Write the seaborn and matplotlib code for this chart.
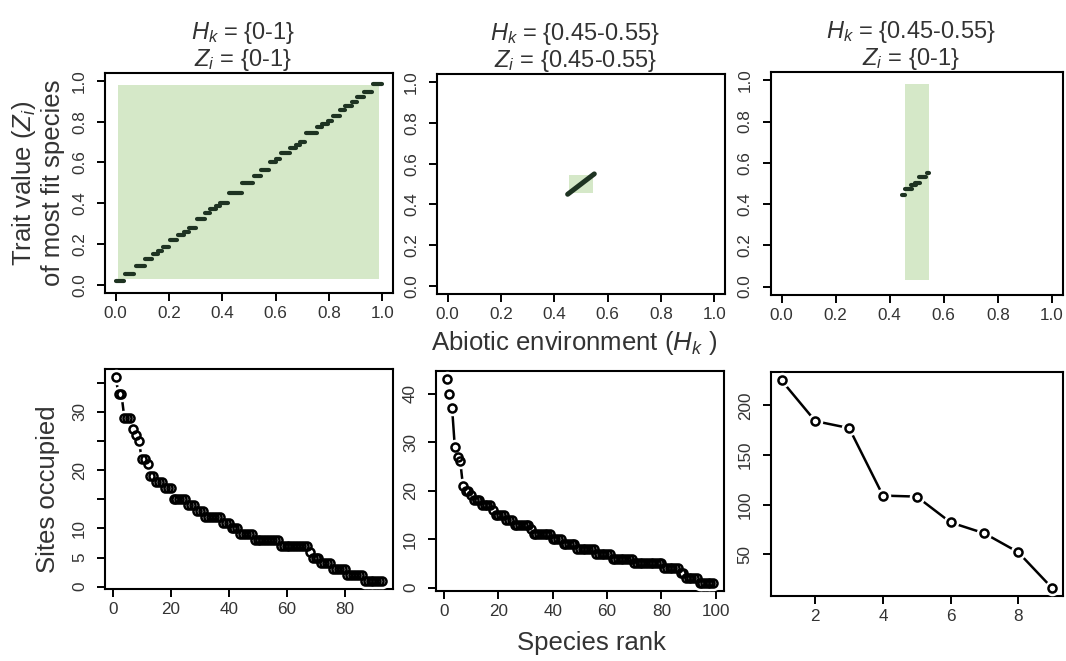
import numpy as np
import pandas as pd
import seaborn as sns
import matplotlib.pyplot as plt
from matplotlib.patches import Rectangle

# top row: steps of the most fit species (environment from, environment to, trait)
full_h0 = [0.00, 0.035, 0.075, 0.11, 0.14, 0.16, 0.178, 0.205, 0.235, 0.255, 0.275,
           0.305, 0.335, 0.355, 0.375, 0.39, 0.425, 0.475, 0.52, 0.545, 0.58, 0.60,
           0.62, 0.655, 0.675, 0.69, 0.715, 0.755, 0.775, 0.795, 0.815, 0.84, 0.86,
           0.885, 0.905, 0.93, 0.965]
full_h1 = [0.03, 0.07, 0.11, 0.135, 0.16, 0.175, 0.20, 0.23, 0.255, 0.275, 0.30,
           0.335, 0.355, 0.375, 0.39, 0.42, 0.475, 0.515, 0.545, 0.575, 0.60, 0.615,
           0.655, 0.675, 0.69, 0.71, 0.755, 0.775, 0.795, 0.81, 0.84, 0.86, 0.885,
           0.905, 0.93, 0.96, 1.00]
full_z = [0.02, 0.05, 0.09, 0.125, 0.15, 0.165, 0.185, 0.22, 0.245, 0.26, 0.28,
          0.32, 0.35, 0.37, 0.385, 0.40, 0.45, 0.50, 0.535, 0.565, 0.60, 0.615,
          0.645, 0.67, 0.685, 0.70, 0.745, 0.775, 0.79, 0.805, 0.83, 0.855, 0.875,
          0.895, 0.92, 0.945, 0.985]

mid_h0 = [0.45]
mid_h1 = [0.55]
mid_z0 = [0.45]
mid_z1 = [0.55]

narrow_h0 = [0.445, 0.457, 0.477, 0.495, 0.508, 0.538]
narrow_h1 = [0.455, 0.482, 0.497, 0.512, 0.535, 0.547]
narrow_z = [0.445, 0.472, 0.49, 0.50, 0.532, 0.549]

# shaded niche: environment range and trait range
box_h = [(0.01, 0.99), (0.455, 0.545), (0.455, 0.545)]
box_z = [(0.03, 0.98), (0.455, 0.545), (0.03, 0.98)]

titles = ["$H_k$ = {0-1}\n$Z_i$ = {0-1}",
          "$H_k$ = {0.45-0.55}\n$Z_i$ = {0.45-0.55}",
          "$H_k$ = {0.45-0.55}\n$Z_i$ = {0-1}"]

# bottom row: sites occupied by species rank
occ_full = [36, 33, 33, 29, 29, 29, 27, 26, 25, 22, 22, 21, 19, 19, 18, 18, 18,
            17, 17, 17, 15, 15, 15, 15, 15, 14, 14, 14, 13, 13, 13, 12, 12, 12,
            12, 12, 12, 11, 11, 11, 10, 10, 10, 9, 9, 9, 9, 9, 8, 8, 8, 8, 8, 8,
            8, 8, 8, 7, 7, 7, 7, 7, 7, 7, 7, 7, 7, 6, 5, 5, 5, 4, 4, 4, 4, 3, 3,
            3, 3, 3, 2, 2, 2, 2, 2, 2, 1, 1, 1, 1, 1, 1, 1]
occ_mid = [43, 40, 37, 29, 27, 26, 21, 20, 20, 19, 18, 18, 18, 17, 17, 17, 17,
           16, 15, 15, 15, 15, 14, 14, 14, 13, 13, 13, 13, 13, 13, 12, 11, 11,
           11, 11, 11, 11, 11, 10, 10, 10, 10, 9, 9, 9, 9, 9, 8, 8, 8, 8, 8, 8,
           8, 7, 7, 7, 7, 7, 7, 6, 6, 6, 6, 6, 6, 6, 6, 5, 5, 5, 5, 5, 5, 5, 5,
           5, 5, 5, 4, 4, 4, 4, 4, 4, 3, 3, 2, 2, 2, 2, 2, 1, 1, 1, 1, 1, 1]
occ_narrow = [225, 184, 177, 109, 108, 82, 71, 52, 16]

bottom_yticks = [[0, 5, 10, 15, 20, 25, 30, 35], [0, 10, 20, 30, 40], [50, 100, 150, 200]]
bottom_ylabels = [["0", "5", "10", "", "20", "", "30", ""],
                  ["0", "10", "20", "30", "40"],
                  ["50", "100", "150", "200"]]
bottom_xticks = [[0, 20, 40, 60, 80], [0, 20, 40, 60, 80, 100], [2, 4, 6, 8]]

green = "#d5e8c8"
dots = "#1e3322"
txt = "#333333"

sns.set_theme(style="ticks")
plt.rcParams.update({
    "font.family": ["Liberation Sans", "DejaVu Sans"],
    "mathtext.fontset": "custom",
    "mathtext.rm": "Liberation Sans",
    "mathtext.it": "Liberation Sans:italic",
    "axes.edgecolor": "black",
    "axes.linewidth": 1.5,
    "xtick.major.width": 1.4,
    "ytick.major.width": 1.4,
    "xtick.major.size": 6,
    "ytick.major.size": 6,
    "xtick.major.pad": 3.5,
    "ytick.major.pad": 7,
    "xtick.labelsize": 12.3,
    "ytick.labelsize": 12.3,
    "xtick.color": "black",
    "ytick.color": "black",
    "xtick.labelcolor": txt,
    "ytick.labelcolor": txt,
    "text.color": txt,
})

fig = plt.figure(figsize=(10.66, 6.61), dpi=100)
top_pos = [[0.0985, 0.557, 0.270, 0.333], [0.410, 0.555, 0.270, 0.333], [0.723, 0.554, 0.274, 0.337]]
bot_pos = [[0.0985, 0.109, 0.270, 0.333], [0.409, 0.106, 0.270, 0.333], [0.723, 0.098, 0.274, 0.339]]

steps = [
    (full_h0, full_h1, full_z, full_z),
    (mid_h0, mid_h1, mid_z0, mid_z1),
    (narrow_h0, narrow_h1, narrow_z, narrow_z),
]

def segments_frame(h0, h1, z0, z1):
    rows = []
    for k in range(len(h0)):
        rows.append({"seg": k, "h": h0[k], "z": z0[k]})
        rows.append({"seg": k, "h": h1[k], "z": z1[k]})
    return pd.DataFrame(rows)

for i in range(3):
    ax = fig.add_axes(top_pos[i])
    (h0, h1), (z0, z1) = box_h[i], box_z[i]
    ax.add_patch(Rectangle((h0, z0), h1 - h0, z1 - z0, color=green, lw=0, zorder=1))
    df = segments_frame(*steps[i])
    lw = 3.6 if i == 1 else 3.0
    sns.lineplot(data=df, x="h", y="z", units="seg", estimator=None, sort=False,
                 color=dots, lw=lw, solid_capstyle="round", ax=ax, zorder=3)
    ax.set_xlim(-0.04, 1.04)
    ax.set_ylim(-0.04, 1.04)
    ax.set_xticks([0, 0.2, 0.4, 0.6, 0.8, 1.0])
    ax.set_yticks([0, 0.2, 0.4, 0.6, 0.8, 1.0])
    ax.set_xticklabels(["0.0", "0.2", "0.4", "0.6", "0.8", "1.0"])
    ax.set_yticklabels(["0.0", "0.2", "0.4", "0.6", "0.8", "1.0"], rotation=90, va="center")
    ax.set_xlabel("")
    ax.set_ylabel("")
    ax.set_title(titles[i], fontsize=17, pad=5, linespacing=1.05, x=0.48, color=txt)

occs = [occ_full, occ_mid, occ_narrow]
for i in range(3):
    ax = fig.add_axes(bot_pos[i])
    occ = occs[i]
    rank = np.arange(1, len(occ) + 1)
    sns.lineplot(x=rank, y=occ, color="black", lw=1.8, ax=ax, zorder=2)
    sns.scatterplot(x=rank, y=occ, color="white", s=125, linewidth=0, ax=ax, zorder=3)
    sns.lineplot(x=rank, y=occ, color="black", lw=0, marker="o", ms=5.8,
                 mfc="none", mec="black", mew=1.8, ax=ax, zorder=4)
    pad_x = 0.04 * (rank[-1] - 1)
    pad_y = 0.04 * (max(occ) - min(occ))
    ax.set_xlim(1 - pad_x, rank[-1] + pad_x)
    ax.set_ylim(min(occ) - pad_y, max(occ) + pad_y)
    ax.set_xticks(bottom_xticks[i])
    ax.set_yticks(bottom_yticks[i])
    ax.set_yticklabels(bottom_ylabels[i], rotation=90, va="center")
    ax.set_xlabel("")
    ax.set_ylabel("")

fig.text(0.035, 0.723, "Trait value ($Z_i$)\nof most fit species", rotation=90,
         ha="center", va="center", fontsize=18.5, linespacing=1.15)
fig.text(0.539, 0.481, "Abiotic environment ($H_k$ )", ha="center", va="center", fontsize=18.5)
fig.text(0.045, 0.260, "Sites occupied", rotation=90, ha="center", va="center", fontsize=18.5)
fig.text(0.555, 0.027, "Species rank", ha="center", va="center", fontsize=18.5)

fig.savefig("out.png", dpi=100)
